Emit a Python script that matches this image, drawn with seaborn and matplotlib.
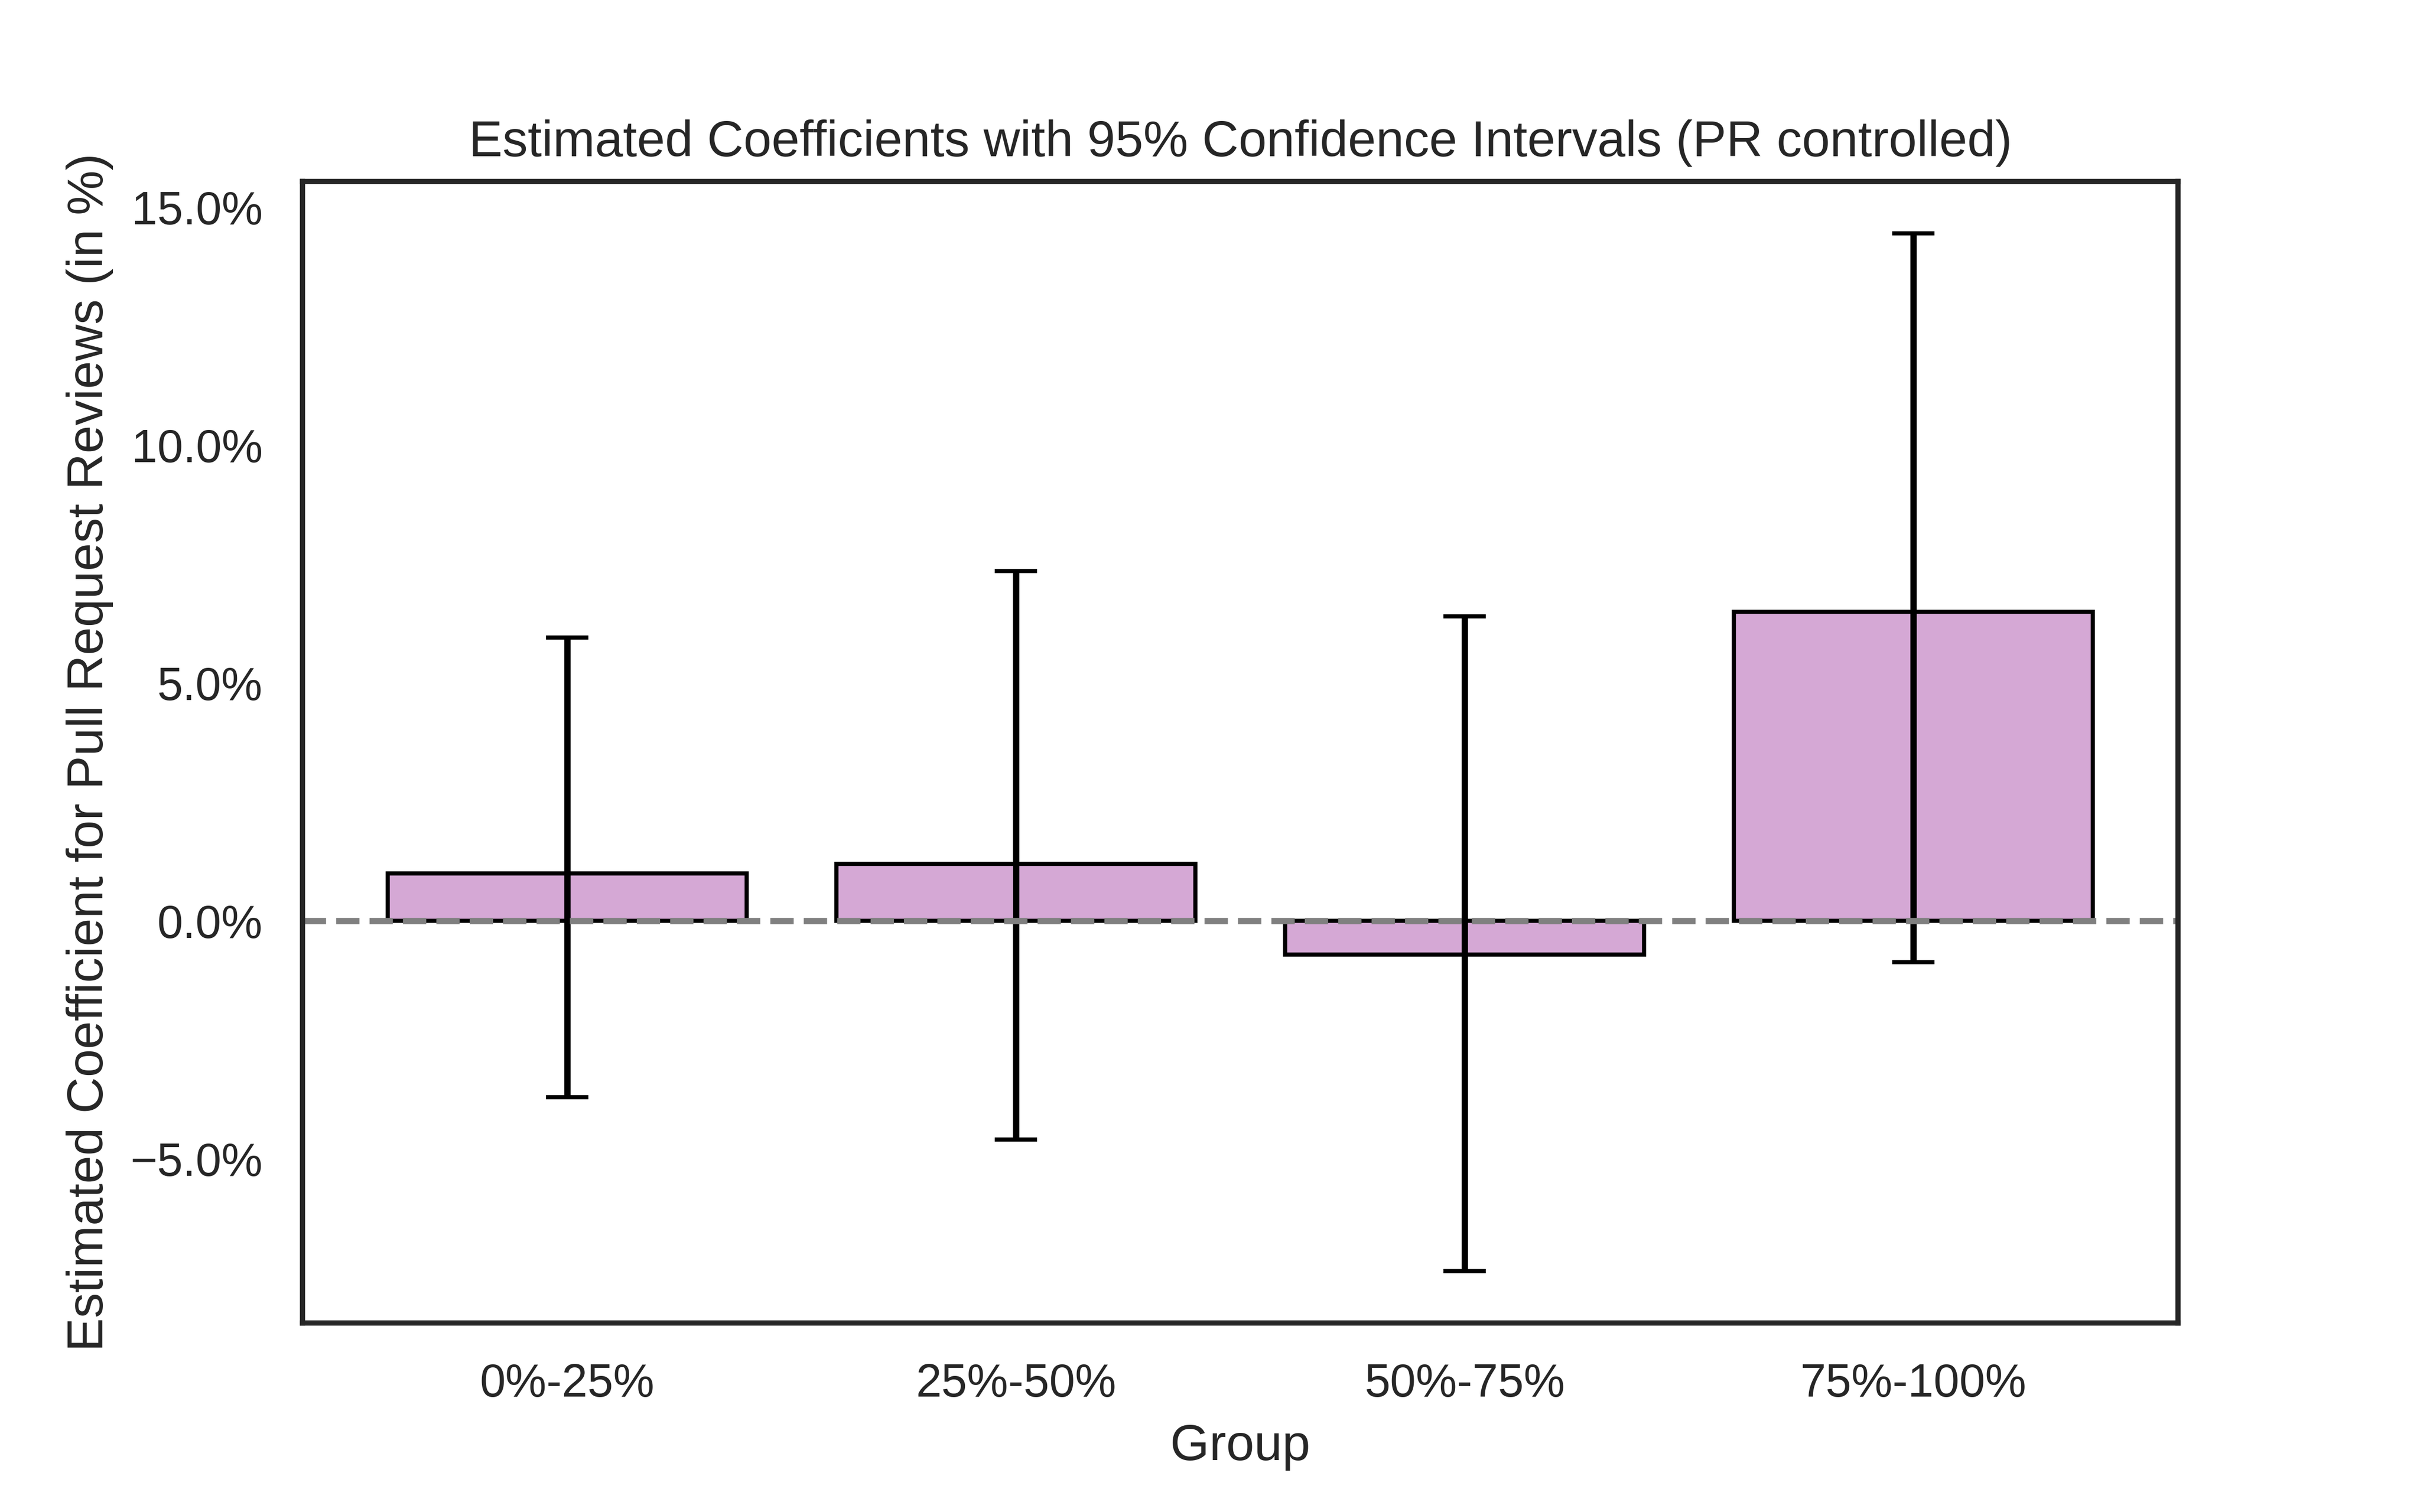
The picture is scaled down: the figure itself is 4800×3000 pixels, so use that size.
import numpy as np
import pandas as pd
import matplotlib
matplotlib.use("Agg")
import matplotlib.pyplot as plt
import seaborn as sns
from matplotlib.ticker import PercentFormatter

# Veriler (% cinsinden)
groups = ["0%-25%", "25%-50%", "50%-75%", "75%-100%"]
coef = [1.0, 1.2, -0.71, 6.5]
ci_lower = [-3.7, -4.6, -7.36, -0.87]
ci_upper = [5.95, 7.35, 6.4, 14.45]


def plot_coefficients():
    sns.set_theme(style="white")
    plt.rcParams['font.family'] = ['Liberation Sans', 'DejaVu Sans']

    df = pd.DataFrame({"Group": groups, "coef": coef,
                       "lower": ci_lower, "upper": ci_upper})

    fig, ax = plt.subplots(figsize=(8, 5))
    fig.subplots_adjust(left=0.125, right=0.9, bottom=0.125, top=0.88)

    sns.barplot(data=df, x="Group", y="coef", color="plum",
                edgecolor="black", linewidth=1, ax=ax)

    yerr = np.array([df["coef"] - df["lower"], df["upper"] - df["coef"]])
    ax.errorbar(np.arange(len(df)), df["coef"], yerr=yerr, fmt="none",
                ecolor="black", elinewidth=1.5, capsize=5, capthick=1)

    ax.axhline(0, color="gray", linestyle="--", linewidth=1.5)

    ax.yaxis.set_major_formatter(PercentFormatter(decimals=1))
    ax.set_title("Estimated Coefficients with 95% Confidence Intervals (PR controlled)")
    ax.set_xlabel("Group")
    ax.set_ylabel("Estimated Coefficient for Pull Request Reviews (in %)")

    fig.savefig("out.png", dpi=600)


if __name__ == "__main__":
    plot_coefficients()
